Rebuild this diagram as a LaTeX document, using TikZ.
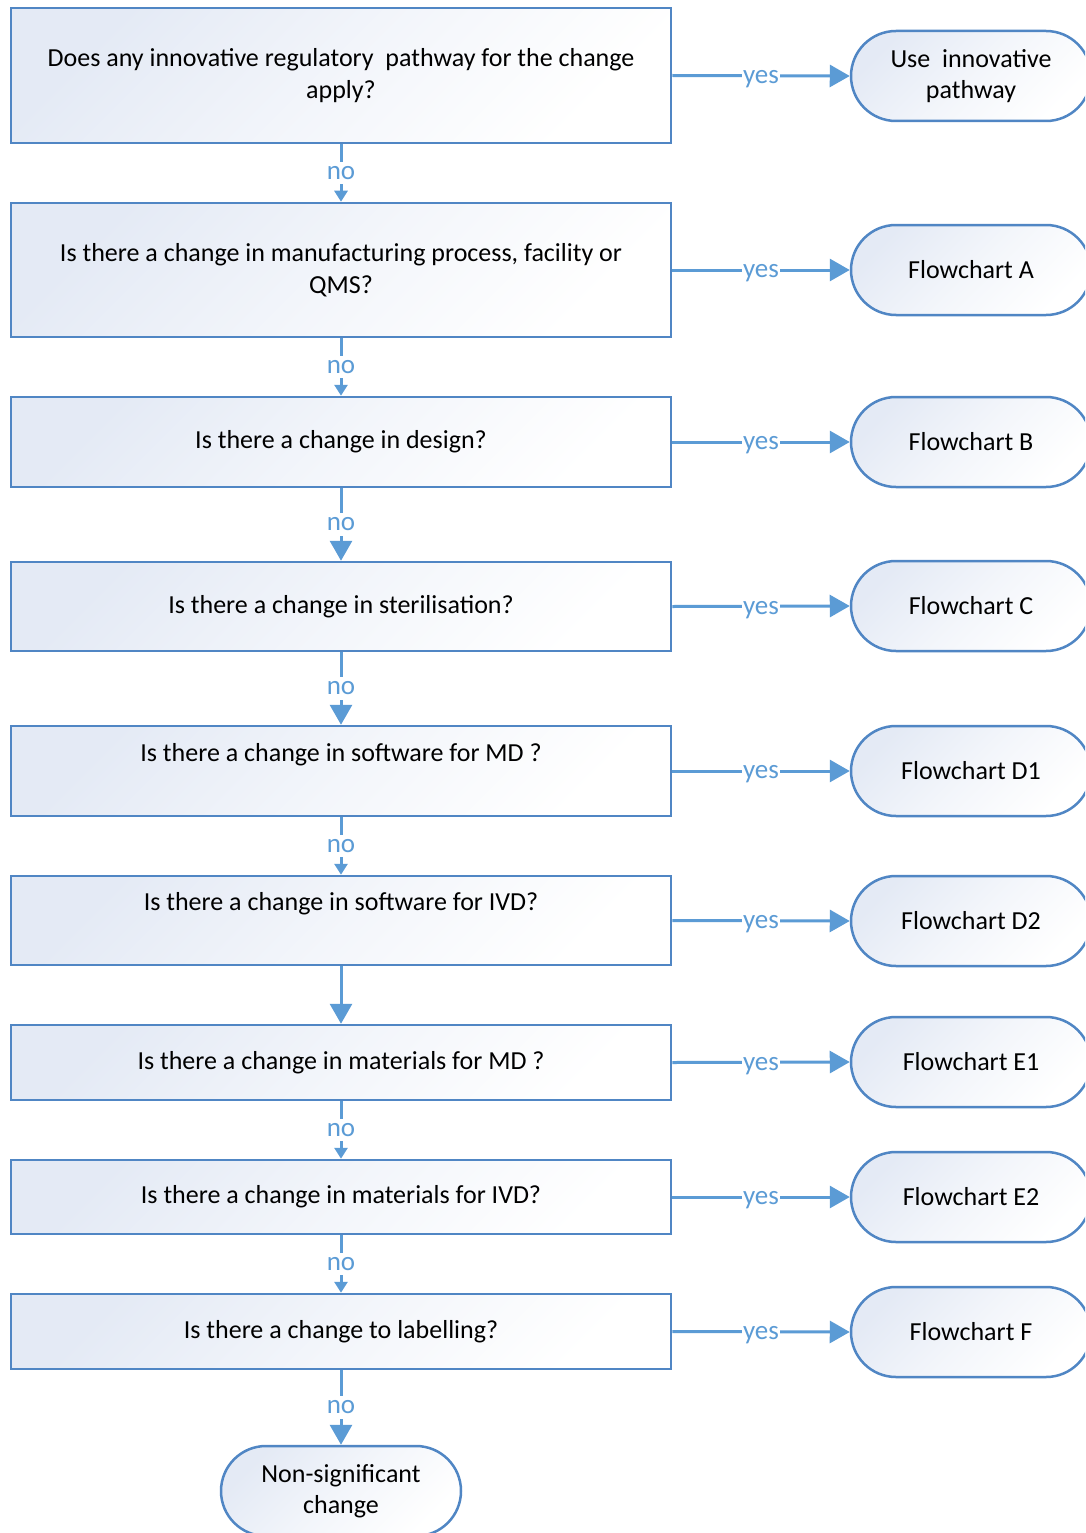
\documentclass[tikz,border=0pt]{standalone}
\usepackage{fontspec}
\setmainfont{Carlito}
\usetikzlibrary{arrows.meta}
\definecolor{lineblue}{RGB}{91,155,213}
\definecolor{edgeblue}{RGB}{80,134,196}
\definecolor{fillblue}{RGB}{228,234,245}
\begin{document}
\begin{tikzpicture}[x=1pt,y=-1pt,
  txt/.style={font=\fontsize{26}{31.5}\selectfont},
  shadefill/.style={top color=fillblue, bottom color=white, middle color=fillblue!45, shading angle=45},
  qbox/.style={txt, draw=edgeblue, line width=2.5pt, minimum width=660pt, inner sep=0pt,
    align=center, shadefill},
  term/.style={txt, draw=edgeblue, line width=2.5pt, minimum width=240pt, minimum height=90pt,
    rounded corners=45pt, inner sep=0pt, align=center, shadefill},
  conn/.style={draw=lineblue, line width=3pt},
  bigtip/.style={-{Triangle[length=20pt,width=22pt]}},
  smalltip/.style={-{Triangle[length=11pt,width=13pt]}},
  lbl/.style={font=\fontsize{27}{30}\selectfont, text=lineblue, fill=white, text height=12.5pt, text depth=0pt},
  yeslbl/.style={lbl, inner xsep=1pt, inner ysep=6pt, yshift=-1.5pt},
  nolbl/.style={lbl, inner xsep=2pt, inner ysep=5pt}]
\clip (0,0) rectangle (1085,1533);
\fill[white] (0,0) rectangle (1085,1533);
% question boxes
\node[qbox, minimum height=135pt] (b1) at (341,75.5) {Does any innovative regulatory\ \ pathway for the change\\apply?};
\node[qbox, minimum height=134pt] (b2) at (341,270) {Is there a change in manufacturing process, facility or\\QMS?};
\node[qbox, minimum height=90pt] (b3) at (341,442) {Is there a change in design?};
\node[qbox, minimum height=89pt] (b4) at (341,606.5) {Is there a change in sterilisation?};
\node[qbox, minimum height=90pt, text height=18pt, text depth=38pt] (b5) at (341,771) {Is there a change in software for MD ?};
\node[qbox, minimum height=89pt, text height=18pt, text depth=38pt] (b6) at (341,920.5) {Is there a change in software for IVD?};
\node[qbox, minimum height=75pt] (b7) at (341,1062.5) {Is there a change in materials for MD ?};
\node[qbox, minimum height=74pt] (b8) at (341,1197) {Is there a change in materials for IVD?};
\node[qbox, minimum height=75pt] (b9) at (341,1331.5) {Is there a change to labelling?};
% terminals
\node[term] (t1) at (971,76) {Use\ \ innovative\\pathway};
\node[term] (t2) at (971,270) {Flowchart A};
\node[term] (t3) at (971,442) {Flowchart B};
\node[term] (t4) at (971,606) {Flowchart C};
\node[term] (t5) at (971,771) {Flowchart D1};
\node[term] (t6) at (971,921) {Flowchart D2};
\node[term] (t7) at (971,1062) {Flowchart E1};
\node[term] (t8) at (971,1197) {Flowchart E2};
\node[term] (t9) at (971,1332) {Flowchart F};
\node[term] (tn) at (341,1491) {Non-significant\\change};
% yes connectors
\foreach \i in {1,...,9}{
  \draw[conn, bigtip] (b\i.east) -- node[yeslbl]{yes} (t\i.west);
}
% no connectors
\draw[conn, smalltip] (b1.south) -- node[nolbl]{no} (b2.north);
\draw[conn, smalltip] (b2.south) -- node[nolbl]{no} (b3.north);
\draw[conn, bigtip] (b3.south) -- node[nolbl]{no} (b4.north);
\draw[conn, bigtip] (b4.south) -- node[nolbl]{no} (b5.north);
\draw[conn, smalltip] (b5.south) -- node[nolbl]{no} (b6.north);
\draw[conn, bigtip] (b6.south) -- (b7.north);
\draw[conn, smalltip] (b7.south) -- node[nolbl]{no} (b8.north);
\draw[conn, smalltip] (b8.south) -- node[nolbl]{no} (b9.north);
\draw[conn, bigtip] (b9.south) -- node[nolbl]{no} (tn.north);
\end{tikzpicture}
\end{document}
